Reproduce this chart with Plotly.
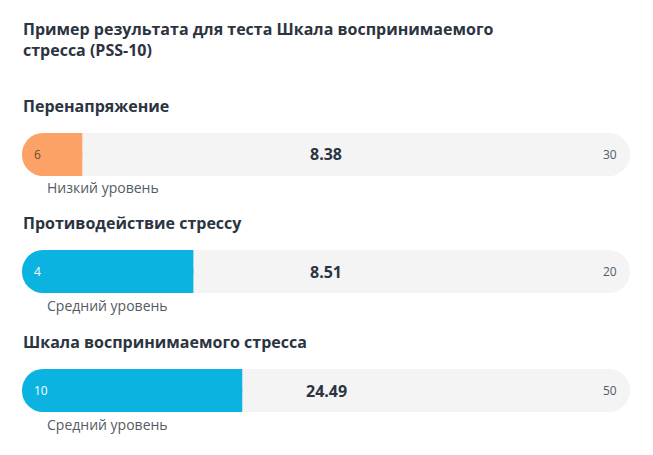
import plotly.graph_objects as go

title = "Пример результата для теста Шкала воспринимаемого<br>стресса (PSS-10)"
categories = ["Перенапряжение", "Противодействие стрессу", "Шкала воспринимаемого стресса"]
levels = ["Низкий уровень", "Средний уровень", "Средний уровень"]
values = [8.38, 8.51, 24.49]
mins = [6, 4, 10]
maxs = [30, 20, 50]
colors = ["#FCA266", "#0BB4E0", "#0BB4E0"]

W, H = 653, 455
OFF = 8  # page body margin
def px(v):
    return (v - OFF) / W
def py(v):
    return 1 - (v - OFF) / H

bar_tops = [133, 250, 369]
bar_h = 43
FONT = "Open Sans"
dark = "#2B3440"

fig = go.Figure()
ann = []
layout_axes = {}
def A(**k):
    k.setdefault("xref", "paper"); k.setdefault("yref", "paper"); k.setdefault("showarrow", False)
    ann.append(k)

for i in range(3):
    n = "" if i == 0 else str(i + 1)
    xa, ya = "x" + n, "y" + n
    top, bot = bar_tops[i], bar_tops[i] + bar_h
    lo, hi, v = mins[i], maxs[i], values[i]
    fig.add_trace(go.Bar(y=[0], x=[hi - lo], base=[lo], orientation="h", width=1,
                         marker=dict(color="#F4F4F4", cornerradius=21, line_width=0),
                         xaxis=xa, yaxis=ya, hoverinfo="skip"))
    fig.add_trace(go.Bar(y=[0], x=[v - lo], base=[lo], orientation="h", width=1,
                         marker=dict(color=colors[i], cornerradius=21, line_width=0),
                         xaxis=xa, yaxis=ya, hoverinfo="skip"))
    mid = lo + (v - lo) * 0.5
    fig.add_trace(go.Bar(y=[0], x=[v - mid], base=[mid], orientation="h", width=1,
                         marker=dict(color=colors[i], line_width=0),
                         xaxis=xa, yaxis=ya, hoverinfo="skip"))
    layout_axes["xaxis" + n] = dict(domain=[px(22), px(630)], range=[lo, hi], visible=False, fixedrange=True, anchor=ya)
    layout_axes["yaxis" + n] = dict(domain=[py(bot), py(top)], range=[-0.5, 0.5], visible=False, fixedrange=True, anchor=xa)
    yc = py(top + bar_h / 2)
    A(text=f"<b>{categories[i]}</b>", x=px(21), y=py(top - 27), xanchor="left", yanchor="middle",
      font=dict(size=16, color=dark, family=FONT))
    A(text=levels[i], x=px(45), y=py(bot + 12), xanchor="left", yanchor="middle",
      font=dict(size=14, color="#555B63", family=FONT))
    A(text=str(lo), x=px(32), y=yc, xanchor="left", yanchor="middle",
      font=dict(size=12, color="#6B4A33" if i == 0 else "white", family=FONT))
    A(text=str(hi), x=px(619), y=yc, xanchor="right", yanchor="middle",
      font=dict(size=12, color="#555B63", family=FONT))
    A(text=f"<b>{v:.2f}</b>", x=px(326), y=yc, xanchor="center", yanchor="middle",
      font=dict(size=16, color=dark, family=FONT))

A(text=f"<b>{title}</b>", x=px(21), y=py(40), xanchor="left", yanchor="middle", align="left",
  font=dict(size=16, color=dark, family=FONT))

fig.update_layout(width=W, height=H, margin=dict(l=0, r=0, t=0, b=0), barmode="overlay",
                  showlegend=False, plot_bgcolor="white", paper_bgcolor="white",
                  annotations=ann, **layout_axes)
fig.write_html("out.html", config={"displayModeBar": False})
